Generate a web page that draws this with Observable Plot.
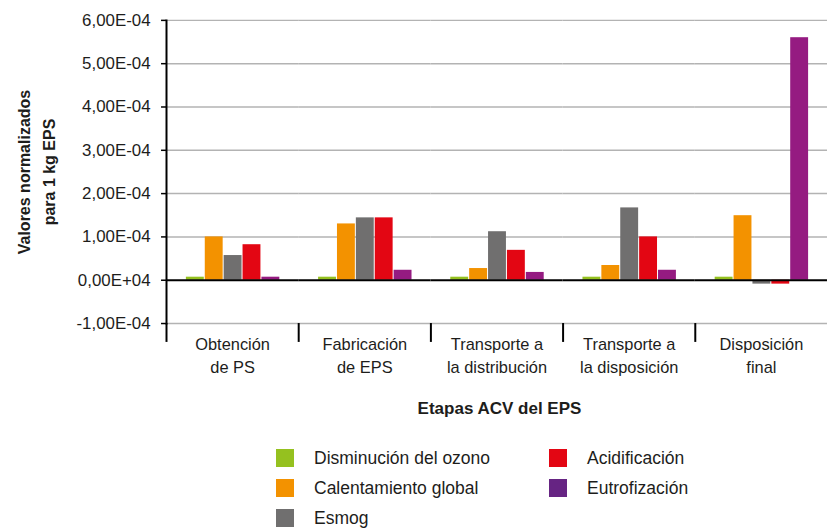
<!DOCTYPE html>
<html>
<head>
<meta charset="utf-8">
<script src="https://cdn.jsdelivr.net/npm/d3@7"></script>
<script src="https://cdn.jsdelivr.net/npm/@observablehq/plot@0.6"></script>
<style>
html, body { margin: 0; padding: 0; background: #fff; overflow: hidden; width: 827px; height: 532px; }
#wrap { position: relative; width: 827px; height: 532px; font-family: "Liberation Sans", Arial, sans-serif; color: #1d1d1b; overflow: hidden; }
#chart { position: absolute; left: 0; top: 0; }
#ytitle { position: absolute; left: -93px; top: 147px; width: 260px; height: 50px; line-height: 25px; text-align: center; font-weight: bold; font-size: 16px; transform: rotate(-90deg); transform-origin: 50% 50%; }
#xtitle { position: absolute; left: 167px; width: 665px; top: 399px; line-height: 20px; text-align: center; font-weight: bold; font-size: 17px; }
#legend { position: absolute; left: 276px; top: 449px; display: grid; grid-template-columns: 273px auto; grid-template-rows: 30px 30px 30px; grid-auto-flow: column; }
.item { display: flex; align-items: flex-start; height: 30px; }
.sw { width: 18px; height: 18px; flex: none; }
.lab { margin-left: 20px; font-size: 17.5px; line-height: 18px; white-space: nowrap; }
</style>
</head>
<body>
<div id="wrap">
  <div id="chart"></div>
  <div id="ytitle">Valores normalizados<br>para 1 kg EPS</div>
  <div id="xtitle"></div>
  <div id="legend"></div>
</div>
<script>
// ---- data ----
const stages = ["Obtención\nde PS", "Fabricación\nde EPS", "Transporte a\nla distribución", "Transporte a\nla disposición", "Disposición\nfinal"];
const indicators = ["Disminución del ozono", "Calentamiento global", "Esmog", "Acidificación", "Eutrofización"];
const ozono          = [0.07e-4, 0.07e-4, 0.07e-4, 0.07e-4, 0.07e-4];
const calentamiento  = [1.00e-4, 1.30e-4, 0.27e-4, 0.34e-4, 1.49e-4];
const esmog          = [0.57e-4, 1.44e-4, 1.12e-4, 1.67e-4, -0.09e-4];
const acidificacion  = [0.82e-4, 1.44e-4, 0.69e-4, 1.00e-4, -0.09e-4];
const eutrofizacion  = [0.07e-4, 0.23e-4, 0.18e-4, 0.23e-4, 5.60e-4];
const yTicks = [-1e-4, 0, 1e-4, 2e-4, 3e-4, 4e-4, 5e-4, 6e-4];
const yTickLabels = ["-1,00E-04", "0,00E+04", "1,00E-04", "2,00E-04", "3,00E-04", "4,00E-04", "5,00E-04", "6,00E-04"];
const xTitle = "Etapas ACV del EPS";

// ---- styles ----
const barColors = ["#95c11f", "#f39200", "#706f6f", "#e30613", "#951b81"];
const legendColors = ["#95c11f", "#f39200", "#706f6f", "#e30613", "#662483"];

const series = [ozono, calentamiento, esmog, acidificacion, eutrofizacion];
const rows = stages.flatMap((s, i) => indicators.map((ind, j) => ({stage: s, indicator: ind, value: series[j][i]})));

const W = 832, ML = 167, MR = 0;
const bw = (W - ML - MR) / stages.length;

const chart = Plot.plot({
  width: W, height: 385,
  marginLeft: ML, marginRight: MR, marginTop: 20, marginBottom: 60,
  style: {fontFamily: '"Liberation Sans", Arial, sans-serif', fontSize: "17px", color: "#1d1d1b", background: "white"},
  fx: {domain: stages, padding: 0, label: null},
  x: {domain: indicators, paddingInner: 0.07, paddingOuter: 1, axis: null},
  y: {domain: [-1e-4, 6e-4]},
  color: {domain: indicators, range: barColors},
  marks: [
    Plot.gridY(yTicks.filter(d => d !== 0), {stroke: "#b3b3b3", strokeOpacity: 1, strokeWidth: 1.5}),
    Plot.barY(rows, {fx: "stage", x: "indicator", y1: 0, y2: "value", fill: "indicator"}),
    Plot.ruleY([0], {stroke: "#000", strokeWidth: 2.2}),
    Plot.frame({anchor: "left", facetAnchor: "left", stroke: "#000", strokeWidth: 2}),
    Plot.axisY(yTicks, {anchor: "left", tickSize: 5, tickPadding: 11, stroke: "#000", strokeWidth: 1.5, fontSize: 17,
      tickFormat: d => yTickLabels[Math.round(d / 1e-4) + 1], label: null}),
    Plot.axisFx({anchor: "bottom", tickSize: 0, tickPadding: 10, fontSize: 16.5, lineHeight: 1.4, label: null}),
    Plot.axisFx({anchor: "bottom", tickSize: 19, dx: -bw / 2, stroke: "#000", strokeWidth: 2, tickFormat: () => "", label: null})
  ]
});
document.getElementById("chart").appendChild(chart);
document.getElementById("xtitle").textContent = xTitle;

const legend = document.getElementById("legend");
indicators.forEach((name, i) => {
  const item = document.createElement("div");
  item.className = "item";
  const sw = document.createElement("div");
  sw.className = "sw";
  sw.style.background = legendColors[i];
  const lab = document.createElement("div");
  lab.className = "lab";
  lab.textContent = name;
  item.appendChild(sw);
  item.appendChild(lab);
  legend.appendChild(item);
});
</script>
</body>
</html>
